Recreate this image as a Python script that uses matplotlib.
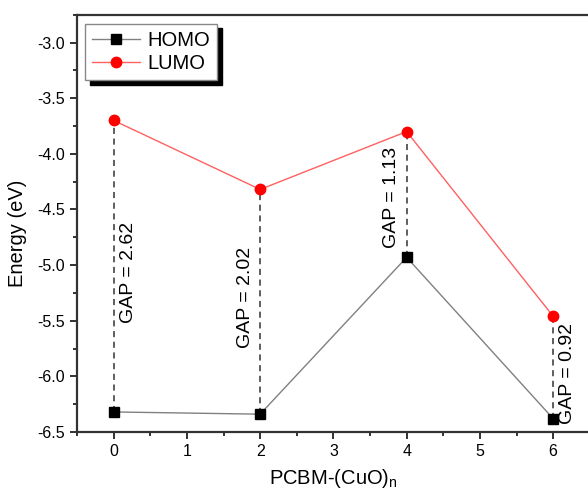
import matplotlib
matplotlib.use('Agg')
import matplotlib.pyplot as plt
from matplotlib.ticker import MultipleLocator

plt.rcParams['font.family'] = ['Liberation Sans', 'DejaVu Sans']
plt.rcParams['axes.unicode_minus'] = False

n_cuo = [0, 2, 4, 6]
homo = [-6.32, -6.34, -4.93, -6.38]
lumo = [-3.70, -4.32, -3.80, -5.46]
gaps = [2.62, 2.02, 1.13, 0.92]

# where each GAP label sits: side of the dashed line and height
gap_side = [1, -1, -1, 1]
gap_label_y = [-5.07, -5.29, -4.39, -5.97]

fig = plt.figure(figsize=(5.88, 4.92), dpi=100)
ax = fig.add_axes([0.131, 0.122, 0.872, 0.848])

for x, lo, hi in zip(n_cuo, homo, lumo):
    ax.plot([x, x], [lo, hi], color='#333333', lw=1.1, ls=(0, (4, 3)), zorder=1)

ax.plot(n_cuo, homo, color='#808080', lw=1, marker='s', ms=6.5,
        mfc='black', mec='black', label='HOMO', zorder=3)
ax.plot(n_cuo, lumo, color='#ff6060', lw=1, marker='o', ms=7.5,
        mfc='red', mec='red', label='LUMO', zorder=3)

for x, g, s, y in zip(n_cuo, gaps, gap_side, gap_label_y):
    ax.text(x + s * 0.2, y, f'GAP = {g:.2f}', rotation=90,
            ha='center', va='center', fontsize=14)

ax.set_xlim(-0.5, 6.5)
ax.set_ylim(-6.5, -2.75)
ax.xaxis.set_major_locator(MultipleLocator(1))
ax.xaxis.set_minor_locator(MultipleLocator(0.5))
ax.yaxis.set_minor_locator(MultipleLocator(0.25))
ax.set_yticks([-6.5, -6.0, -5.5, -5.0, -4.5, -4.0, -3.5, -3.0])
ax.set_yticklabels(['-6.5', '-6.0', '-5.5', '-5.0', '-4.5', '-4.0', '-3.5', '-3.0'])

ax.tick_params(which='both', direction='out', width=1.3, labelsize=11.5,
               top=False, right=False, color='#222222')
ax.tick_params(which='major', length=5)
ax.tick_params(which='minor', length=3)

for sp in ['left', 'bottom', 'top']:
    ax.spines[sp].set_linewidth(1.6)
    ax.spines[sp].set_color('#333333')
ax.spines['right'].set_visible(False)

ax.set_xlabel('PCBM-(CuO)$_\\mathregular{n}$', fontsize=14.5, labelpad=6)
ax.set_ylabel('Energy (eV)', fontsize=14.5)
ax.yaxis.set_label_coords(-0.098, 0.475)

leg = ax.legend(loc='upper left', bbox_to_anchor=(0.0156, 0.979), fontsize=14.5,
                frameon=True, fancybox=False, edgecolor='#888888',
                shadow={'color': 'black', 'alpha': 1, 'ox': 3.5, 'oy': -3.5},
                handlelength=2.4, handletextpad=0.35, borderpad=0.35,
                labelspacing=0.22, borderaxespad=0)
leg.get_frame().set_linewidth(1)

fig.savefig('out.png', dpi=100)
